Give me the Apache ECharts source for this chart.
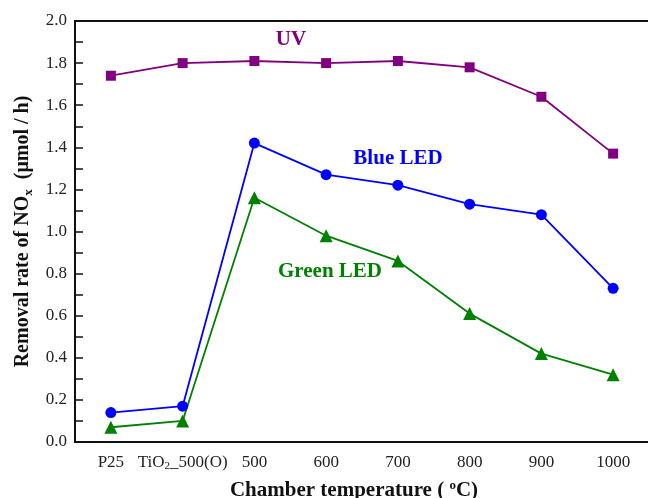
<!DOCTYPE html>
<html>
<head>
<meta charset="utf-8">
<script src="https://cdn.jsdelivr.net/npm/echarts@6/dist/echarts.min.js"></script>
<style>
  html, body { margin: 0; padding: 0; background: #fff; }
  #chart { width: 648px; height: 498px; }
</style>
</head>
<body>
<div id="chart"></div>
<script>
// 数据
const categories = ['P25', 'TiO2_500(O)', '500', '600', '700', '800', '900', '1000']
const uvData = [1.74, 1.80, 1.81, 1.80, 1.81, 1.78, 1.64, 1.37]
const blueData = [0.14, 0.17, 1.42, 1.27, 1.22, 1.13, 1.08, 0.73]
const greenData = [0.07, 0.10, 1.16, 0.98, 0.86, 0.61, 0.42, 0.32]

const serif = 'Liberation Serif, Times New Roman, serif'
const chart = echarts.init(document.getElementById('chart'))

const option = {
  animation: false,
  grid: {
    left: 75,
    top: 21,
    width: 574,
    height: 421,
    outerBoundsMode: 'none',
    containLabel: false,
    show: true,
    borderColor: '#111',
    borderWidth: 2
  },
  xAxis: {
    type: 'category',
    data: categories,
    boundaryGap: true,
    name: '{b|Chamber temperature ( }{sup|o}{b|C)}',
    nameLocation: 'middle',
    nameGap: 37,
    nameTextStyle: {
      padding: [0, 16, 0, 0],
      rich: {
        b: {fontFamily: serif, fontWeight: 'bold', fontSize: 21, color: '#111'},
        sup: {fontFamily: serif, fontWeight: 'bold', fontSize: 13, color: '#111', verticalAlign: 'top', padding: [0, 0, 10, 0]}
      }
    },
    axisLine: {lineStyle: {color: '#111', width: 2}},
    axisTick: {alignWithLabel: true, inside: true, length: 8, lineStyle: {color: '#111', width: 1.5}},
    axisLabel: {
      margin: 12,
      fontFamily: serif,
      fontSize: 17,
      color: '#222',
      interval: 0,
      formatter: (v) => v === 'TiO2_500(O)' ? '{t|TiO}{s|2}{t|_500(O)}' : v,
      rich: {
        t: {fontFamily: serif, fontSize: 17, color: '#222'},
        s: {fontFamily: serif, fontSize: 11, color: '#222', verticalAlign: 'bottom', padding: [7, 0, 0, 0]}
      }
    },
    splitLine: {show: false}
  },
  yAxis: {
    type: 'value',
    min: 0,
    max: 2.0,
    interval: 0.2,
    name: '{b|Removal rate of NO}{s|x}{b|  (μmol / h)}',
    nameLocation: 'middle',
    nameGap: 38,
    nameTextStyle: {
      rich: {
        b: {fontFamily: serif, fontWeight: 'bold', fontSize: 20, color: '#111'},
        s: {fontFamily: serif, fontWeight: 'bold', fontSize: 13, color: '#111', padding: [11, 0, 0, 0]}
      }
    },
    axisLine: {show: true, lineStyle: {color: '#111', width: 2}},
    axisTick: {show: true, inside: true, length: 8, lineStyle: {color: '#111', width: 1.5}},
    minorTick: {show: true, splitNumber: 2, length: 8, lineStyle: {color: '#111', width: 1.5}},
    axisLabel: {
      margin: 8,
      fontFamily: serif,
      fontSize: 17,
      color: '#222',
      formatter: (v) => v.toFixed(1)
    },
    splitLine: {show: false}
  },
  series: [
    {
      name: 'UV',
      type: 'line',
      data: uvData,
      symbol: 'rect',
      symbolSize: 10,
      lineStyle: {color: '#800080', width: 1.8},
      itemStyle: {color: '#800080'}
    },
    {
      name: 'Blue LED',
      type: 'line',
      data: blueData,
      symbol: 'circle',
      symbolSize: 11,
      lineStyle: {color: '#0000ff', width: 1.8},
      itemStyle: {color: '#0000ff'}
    },
    {
      name: 'Green LED',
      type: 'line',
      data: greenData,
      symbol: 'triangle',
      symbolSize: 13,
      lineStyle: {color: '#008000', width: 1.8},
      itemStyle: {color: '#008000'}
    }
  ],
  graphic: [
    {type: 'text', x: 291, y: 40, style: {text: 'UV', align: 'center', verticalAlign: 'middle', fontFamily: serif, fontWeight: 'bold', fontSize: 21, fill: '#800080'}},
    {type: 'text', x: 398, y: 159, style: {text: 'Blue LED', align: 'center', verticalAlign: 'middle', fontFamily: serif, fontWeight: 'bold', fontSize: 21, fill: '#0000ff'}},
    {type: 'text', x: 330, y: 272, style: {text: 'Green LED', align: 'center', verticalAlign: 'middle', fontFamily: serif, fontWeight: 'bold', fontSize: 21, fill: '#008000'}}
  ]
}

chart.setOption(option)
</script>
</body>
</html>
